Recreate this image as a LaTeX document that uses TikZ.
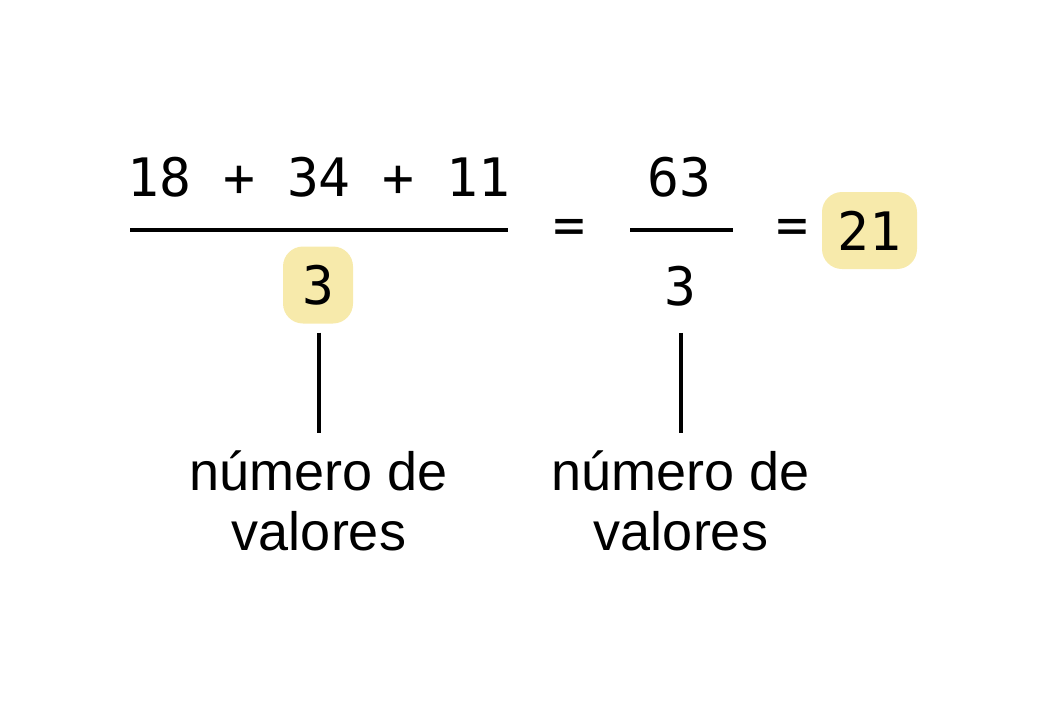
\documentclass[tikz,border=0pt]{standalone}
\usepackage{fontspec}
\newfontfamily\monofont{DejaVu Sans Mono}
\newfontfamily\labfont{Liberation Sans}
\definecolor{hlyellow}{HTML}{F7EAAB}
\begin{document}
\begin{tikzpicture}[x=1pt,y=-1pt,
  num/.style={font=\monofont\fontsize{53}{60}\selectfont, inner sep=0pt},
  lab/.style={font=\labfont\fontsize{54}{60}\selectfont, inner sep=0pt, anchor=base},
  hl/.style={fill=hlyellow, rounded corners=20pt, inner sep=0pt, minimum height=77pt},
  bar/.style={line width=3.2pt},
  tick/.style={line width=3.2pt}]
\useasboundingbox (0,0) rectangle (1046,710);
% first fraction
\node[num, anchor=base] (n1) at (319,196) {18 + 34 + 11};
\coordinate (f1l) at (130,230);
\coordinate (f1r) at (508,230);
\draw[bar] (f1l) -- (f1r);
\node[num, hl, minimum width=70pt] (d1) at (318,285) {3};
% equals
\node[num] (eq1) at (569,231) {=};
% second fraction
\node[num, anchor=base] (n2) at (679,196) {63};
\coordinate (f2l) at (630,230);
\coordinate (f2r) at (733,230);
\draw[bar] (f2l) -- (f2r);
\node[num, anchor=base] (d2) at (680,305) {3};
% equals and result
\node[num] (eq2) at (792,231) {=};
\node[num, hl, minimum width=95pt] (res) at (869.5,230.5) {21};
% labels
\node[lab] (l1a) at (319,490) {número de};
\node[lab] (l1b) at (319,550) {valores};
\node[lab] (l2a) at (681,490) {número de};
\node[lab] (l2b) at (681,550) {valores};
% connectors
\coordinate (e1) at (319,433);
\coordinate (e2) at (681,433);
\draw[tick] ([xshift=1pt,yshift=-9pt]d1.south) -- (e1);
\draw[tick] ([xshift=1pt,yshift=-27pt]d2.south) -- (e2);
\end{tikzpicture}
\end{document}
